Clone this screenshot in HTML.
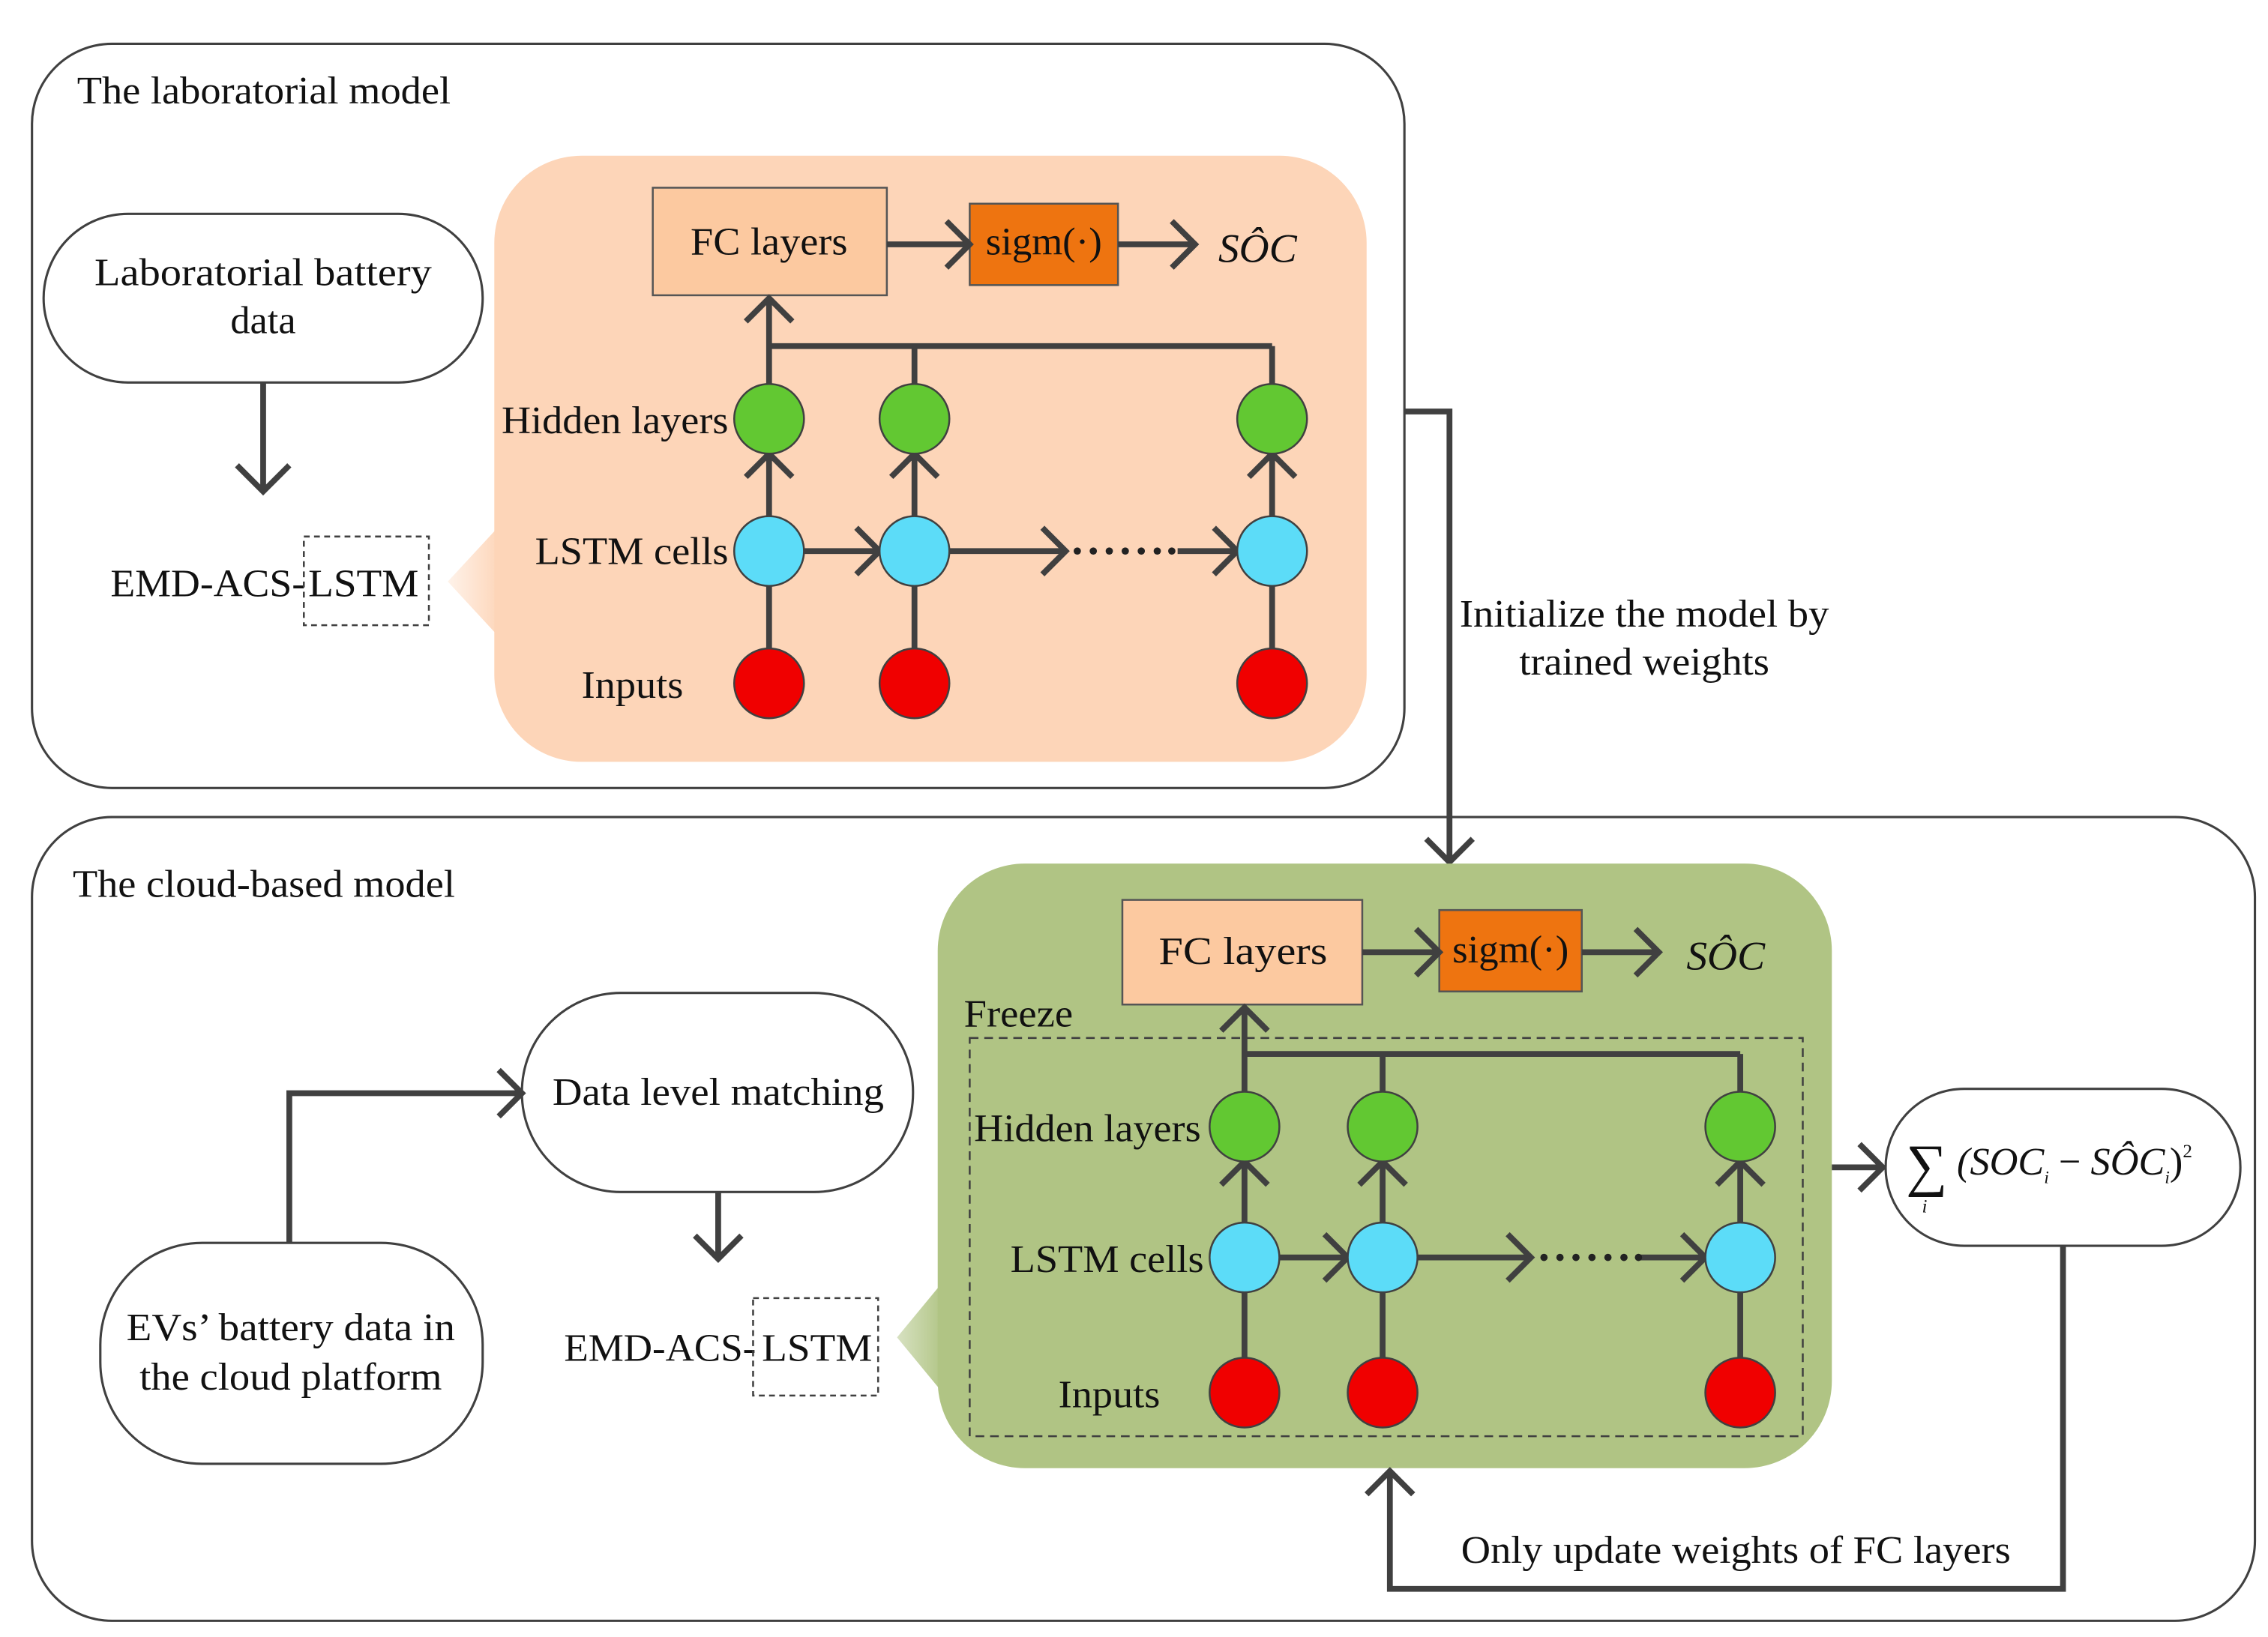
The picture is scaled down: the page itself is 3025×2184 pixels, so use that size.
<!DOCTYPE html>
<html><head><meta charset="utf-8"><style>
html,body{margin:0;padding:0;background:#fff;}
svg{display:block;}
text{font-family:"Liberation Serif",serif;fill:#111;}
</style></head><body>
<svg width="3025" height="2184" viewBox="0 0 1560 1126" xmlns="http://www.w3.org/2000/svg">
<defs>
<linearGradient id="pg1" x1="0" x2="1"><stop offset="0" stop-color="#fdd5b8" stop-opacity="0.3"/><stop offset="1" stop-color="#fdd5b8"/></linearGradient>
<linearGradient id="pg2" x1="0" x2="1"><stop offset="0" stop-color="#b0c484" stop-opacity="0.5"/><stop offset="1" stop-color="#b0c484"/></linearGradient>
</defs>
<g stroke="#404040" fill="none" stroke-width="1.6">
<rect x="22" y="30" width="944" height="512" rx="55"/>
<rect x="22" y="562" width="1529" height="553" rx="55"/>
</g>
<text x="53" y="71" font-size="27" textLength="257" lengthAdjust="spacingAndGlyphs">The laboratorial model</text>
<text x="50" y="617" font-size="27" textLength="263" lengthAdjust="spacingAndGlyphs">The cloud-based model</text>

<!-- top -->
<rect x="30" y="147" width="302" height="116" rx="58" fill="#fff" stroke="#404040" stroke-width="1.6"/>
<text x="181" y="196" font-size="27" text-anchor="middle" textLength="232" lengthAdjust="spacingAndGlyphs">Laboratorial  battery</text>
<text x="181" y="229" font-size="27" text-anchor="middle">data</text>
<text x="76" y="410" font-size="27" textLength="134" lengthAdjust="spacingAndGlyphs">EMD-ACS-</text>
<rect x="209" y="369" width="86" height="61" fill="none" stroke="#404040" stroke-dasharray="4,3" stroke-width="1.3"/>
<text x="212" y="410" font-size="27" textLength="76" lengthAdjust="spacingAndGlyphs">LSTM</text>
<polygon points="308,400 345,360 345,440" fill="url(#pg1)"/>
<rect x="340" y="107" width="600" height="417" rx="60" fill="#fdd5b8"/>
<rect x="449" y="129" width="161" height="74" fill="#fcc9a0" stroke="#555" stroke-width="1.3"/>
<text x="529" y="175" font-size="27" text-anchor="middle" textLength="108" lengthAdjust="spacingAndGlyphs">FC layers</text>
<rect x="667" y="140" width="102" height="56" fill="#ee7410" stroke="#555" stroke-width="1.3"/>
<text x="718" y="175" font-size="27" text-anchor="middle" textLength="80" lengthAdjust="spacingAndGlyphs">sigm(·)</text>
<text x="838" y="180" font-size="28" font-style="italic" textLength="54" lengthAdjust="spacingAndGlyphs">SÔC</text>
<text x="345" y="298" font-size="27" textLength="156" lengthAdjust="spacingAndGlyphs">Hidden layers</text>
<text x="368" y="388" font-size="27" textLength="133" lengthAdjust="spacingAndGlyphs">LSTM cells</text>
<text x="400" y="480" font-size="27" textLength="70" lengthAdjust="spacingAndGlyphs">Inputs</text>

<g stroke="#404040" stroke-width="4" fill="none">
<path d="M181 263V338M163 320L181 338L199 320"/>
<path d="M610 168H665M651 152L667 168L651 184"/>
<path d="M769 168H822M806 152L822 168L806 184"/>
<path d="M529 238H875M629 238V264M875 238V264M529 264V205M513 221L529 205L545 221"/>
<path d="M529 470V403M529 355V312M513 328L529 312L545 328"/>
<path d="M629 470V403M629 355V312M613 328L629 312L645 328"/>
<path d="M875 470V403M875 355V312M859 328L875 312L891 328"/>
<path d="M553 379H603M589 363L605 379L589 395"/>
<path d="M653 379H733M717 363L733 379L717 395"/>
<path d="M810 379H849M835 363L851 379L835 395"/>
<path d="M966 283H997V593M981 577L997 593L1013 577"/>
</g>
<g fill="#222"><circle cx="741" cy="379" r="2.5"/><circle cx="752" cy="379" r="2.5"/><circle cx="763" cy="379" r="2.5"/><circle cx="774" cy="379" r="2.5"/><circle cx="785" cy="379" r="2.5"/><circle cx="796" cy="379" r="2.5"/><circle cx="806" cy="379" r="2.5"/></g>
<g stroke="#404040" stroke-width="1.3">
<circle cx="529" cy="288" r="24" fill="#62c832"/><circle cx="629" cy="288" r="24" fill="#62c832"/><circle cx="875" cy="288" r="24" fill="#62c832"/>
<circle cx="529" cy="379" r="24" fill="#5cdcf8"/><circle cx="629" cy="379" r="24" fill="#5cdcf8"/><circle cx="875" cy="379" r="24" fill="#5cdcf8"/>
<circle cx="529" cy="470" r="24" fill="#f00000"/><circle cx="629" cy="470" r="24" fill="#f00000"/><circle cx="875" cy="470" r="24" fill="#f00000"/>
</g>
<text x="1131" y="431" font-size="27" text-anchor="middle" textLength="254" lengthAdjust="spacingAndGlyphs">Initialize the model by</text>
<text x="1131" y="464" font-size="27" text-anchor="middle" textLength="172" lengthAdjust="spacingAndGlyphs">trained weights</text>

<!-- bottom -->
<rect x="359" y="683" width="269" height="137" rx="68" fill="#fff" stroke="#404040" stroke-width="1.6"/>
<text x="494" y="760" font-size="27" text-anchor="middle" textLength="228" lengthAdjust="spacingAndGlyphs">Data level matching</text>
<rect x="69" y="855" width="263" height="152" rx="70" fill="#fff" stroke="#404040" stroke-width="1.6"/>
<text x="200" y="922" font-size="27" text-anchor="middle" textLength="226" lengthAdjust="spacingAndGlyphs">EVs’ battery data in</text>
<text x="200" y="956" font-size="27" text-anchor="middle" textLength="208" lengthAdjust="spacingAndGlyphs">the cloud platform</text>
<text x="388" y="936" font-size="27" textLength="132" lengthAdjust="spacingAndGlyphs">EMD-ACS-</text>
<rect x="518" y="893" width="86" height="67" fill="none" stroke="#404040" stroke-dasharray="4,3" stroke-width="1.3"/>
<text x="524" y="936" font-size="27" textLength="76" lengthAdjust="spacingAndGlyphs">LSTM</text>
<polygon points="617,920 650,880 650,960" fill="url(#pg2)"/>
<rect x="645" y="594" width="615" height="416" rx="60" fill="#b0c484"/>
<rect x="772" y="619" width="165" height="72" fill="#fcc9a0" stroke="#555" stroke-width="1.3"/>
<text x="855" y="663" font-size="27" text-anchor="middle" textLength="116" lengthAdjust="spacingAndGlyphs">FC  layers</text>
<rect x="990" y="626" width="98" height="56" fill="#ee7410" stroke="#555" stroke-width="1.3"/>
<text x="1039" y="662" font-size="27" text-anchor="middle" textLength="80" lengthAdjust="spacingAndGlyphs">sigm(·)</text>
<text x="1160" y="667" font-size="28" font-style="italic" textLength="54" lengthAdjust="spacingAndGlyphs">SÔC</text>
<text x="663" y="706" font-size="27" textLength="75" lengthAdjust="spacingAndGlyphs">Freeze</text>
<rect x="667" y="714" width="573" height="274" fill="none" stroke="#404040" stroke-dasharray="6,4" stroke-width="1.3"/>
<text x="670" y="785" font-size="27" textLength="156" lengthAdjust="spacingAndGlyphs">Hidden layers</text>
<text x="695" y="875" font-size="27" textLength="133" lengthAdjust="spacingAndGlyphs">LSTM cells</text>
<text x="728" y="968" font-size="27" textLength="70" lengthAdjust="spacingAndGlyphs">Inputs</text>
<rect x="1297" y="749" width="244" height="108" rx="54" fill="#fff" stroke="#404040" stroke-width="1.6"/>
<text x="1311" y="815" font-size="40">∑</text>
<text x="1322" y="834" font-size="13" font-style="italic">i</text>
<text x="1346" y="808" font-size="27" font-style="italic">(SOC<tspan font-size="12" dy="6">i</tspan><tspan dy="-6" font-style="normal"> − </tspan>SÔC<tspan font-size="12" dy="6">i</tspan><tspan dy="-6" font-style="normal">)</tspan><tspan font-size="13" dy="-12" font-style="normal">2</tspan></text>
<text x="1194" y="1075" font-size="27" text-anchor="middle" textLength="378" lengthAdjust="spacingAndGlyphs">Only update weights of FC layers</text>

<g stroke="#404040" stroke-width="4" fill="none">
<path d="M199 855V752H359M343 736L359 752L343 768"/>
<path d="M494 820V866M478 850L494 866L510 850"/>
<path d="M937 655H988M974 639L990 655L974 671"/>
<path d="M1088 655H1141M1125 639L1141 655L1125 671"/>
<path d="M856 725H1197M951 725V751M1197 725V751M856 751V693M840 709L856 693L872 709"/>
<path d="M856 958V889M856 841V799M840 815L856 799L872 815"/>
<path d="M951 958V889M951 841V799M935 815L951 799L967 815"/>
<path d="M1197 958V889M1197 841V799M1181 815L1197 799L1213 815"/>
<path d="M880 865H925M911 849L927 865L911 881"/>
<path d="M975 865H1053M1037 849L1053 865L1037 881"/>
<path d="M1128 865H1171M1157 849L1173 865L1157 881"/>
<path d="M1260 803H1295M1279 787L1295 803L1279 819"/>
<path d="M1419 857V1093H956V1012M940 1028L956 1012L972 1028"/>
</g>
<g fill="#222"><circle cx="1062" cy="865" r="2.5"/><circle cx="1073" cy="865" r="2.5"/><circle cx="1084" cy="865" r="2.5"/><circle cx="1095" cy="865" r="2.5"/><circle cx="1106" cy="865" r="2.5"/><circle cx="1117" cy="865" r="2.5"/><circle cx="1127" cy="865" r="2.5"/></g>
<g stroke="#404040" stroke-width="1.3">
<circle cx="856" cy="775" r="24" fill="#62c832"/><circle cx="951" cy="775" r="24" fill="#62c832"/><circle cx="1197" cy="775" r="24" fill="#62c832"/>
<circle cx="856" cy="865" r="24" fill="#5cdcf8"/><circle cx="951" cy="865" r="24" fill="#5cdcf8"/><circle cx="1197" cy="865" r="24" fill="#5cdcf8"/>
<circle cx="856" cy="958" r="24" fill="#f00000"/><circle cx="951" cy="958" r="24" fill="#f00000"/><circle cx="1197" cy="958" r="24" fill="#f00000"/>
</g>
</svg>
</body></html>
